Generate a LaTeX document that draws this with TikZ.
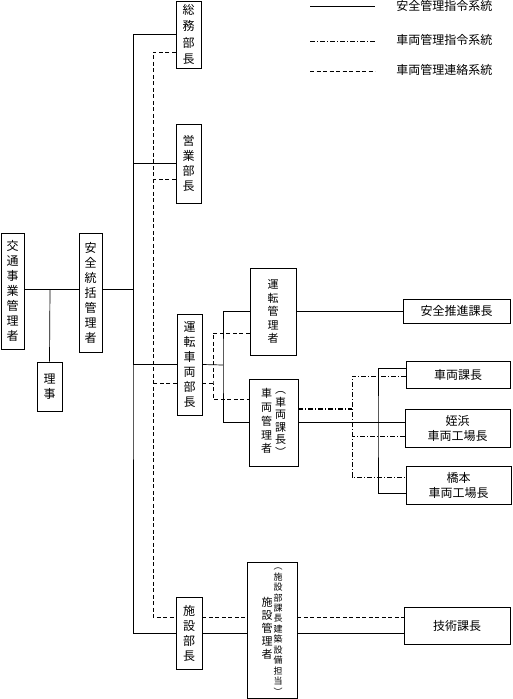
\documentclass[tikz,border=0pt]{standalone}
\usepackage{fontspec}
\setmainfont{Noto Sans CJK JP}

\begin{document}
\begin{tikzpicture}[x=1pt,y=-1pt,
	  line width=0.7pt,
	  main node/.style={draw,inner sep=0pt,align=center,font=\fontsize{12}{15}\selectfont},
	  key node/.style={anchor=west,inner sep=0pt,font=\fontsize{12}{15}\selectfont},
	  order line/.style={line width=0.7pt},
	  ctrl line/.style={line width=0.7pt,dash pattern=on 5pt off 2pt on 1pt off 2pt},
	  link line/.style={line width=0.7pt,dash pattern=on 4pt off 2.5pt}]
	\useasboundingbox (0,0) rectangle (512,699);

	% legend
	\coordinate (k1) at (310,6);
	\coordinate (k2) at (375,6);
	\coordinate (k3) at (310,41);
	\coordinate (k4) at (375,41);
	\coordinate (k5) at (310,71);
	\coordinate (k6) at (375,71);
	\node[key node] (t1) at (396,6) {安全管理指令系統};
	\node[key node] (t2) at (396,40) {車両管理指令系統};
	\node[key node] (t3) at (396,70) {車両管理連絡系統};
	\draw[order line] (k1) -- (k2);
	\draw[ctrl line] (k3) -- (k4);
	\draw[link line] (k5) -- (k6);

	\node[main node,minimum width=23,minimum height=116] (1) at (12.5,291) {交\\通\\事\\業\\管\\理\\者};
	\node[main node,minimum width=25,minimum height=49] (2) at (49.5,386.5) {理\\事};
	\node[main node,minimum width=23,minimum height=119] (3) at (90.5,292.5) {安\\全\\統\\括\\管\\理\\者};
	\node[main node,minimum width=25,minimum height=67,font=\fontsize{12}{16.5}\selectfont] (4) at (188.5,34.5) {総\\務\\部\\長};
	\node[main node,minimum width=25,minimum height=79] (5) at (188.5,163.5) {営\\業\\部\\長};
	\node[main node,minimum width=25,minimum height=101] (6) at (189.5,364.5) {運\\転\\車\\両\\部\\長};
	\node[main node,minimum width=26,minimum height=72] (7) at (189,633) {施\\設\\部\\長};
	\node[main node,minimum width=46,minimum height=87,font=\fontsize{11}{13.5}\selectfont] (8) at (273,311.5) {運\\転\\管\\理\\者};
	\node[main node,minimum width=49,minimum height=87,font=\fontsize{11}{13.75}\selectfont] (9) at (273.5,422.5)
	  {\begin{tabular}[c]{@{}c@{}}車\\両\\管\\理\\者\end{tabular}\hspace{3pt}{\fontsize{11}{12.5}\selectfont\begin{tabular}[c]{@{}c@{}}︵\\車\\両\\課\\長\\︶\end{tabular}}};
	\node[main node,minimum width=50,minimum height=135,font=\fontsize{11}{13}\selectfont] (10) at (272,630.5)
	  {\begin{tabular}[c]{@{}c@{}}施\\設\\管\\理\\者\end{tabular}\hspace{1pt}{\fontsize{9}{10.2}\selectfont\begin{tabular}[c]{@{}c@{}}︵\\施\\設\\部\\課\\長\\建\\築\\設\\備\\担\\当\\︶\end{tabular}}};
	\node[main node,minimum width=107,minimum height=24] (11) at (456.5,311) {安全推進課長};
	\node[main node,minimum width=104,minimum height=27] (12) at (458,374.5) {車両課長};
	\node[main node,minimum width=105,minimum height=38] (13) at (457.5,428) {姪浜\\車両工場長};
	\node[main node,minimum width=105,minimum height=38] (14) at (458.5,485) {橋本\\車両工場長};
	\node[main node,minimum width=106,minimum height=37] (15) at (457,625.5) {技術課長};

	\coordinate (a) at (50,289);
	\coordinate (b) at (133,289);
	\coordinate (c) at (153,617);
	\coordinate (d) at (223,365);
	\coordinate (e) at (213,383);
	\coordinate (f) at (378,422.5);
	\coordinate (g) at (352,409);

	\draw[order line] (a -| 1.east) -- (a -| 3.west);
	\draw[order line] (a) -- (2.north);
	\draw[order line] (b -| 3.east) -- (b);
	\draw[order line] (4.west) -| (b) |- (7.west);
	\draw[order line] (b) |- (5.west);
	\draw[order line] (b) |- (6.west);
	\draw[order line] (6.east) -- (d);
	\draw[order line] (8.west) -| (d) |- (9.west);
	\draw[order line] (8.east) -- (8.east -| 11.west);
	\draw[order line] (9.east) -- (9.east -| 13.west);
	\draw[order line] ([yshift=6.5pt]12.west) -| (f) |- ([yshift=-8pt]14.west);
	\draw[order line] (7.east) -- (7.east -| 10.west);
	\draw[order line] (7.east -| 10.east) -- (7.east -| 15.west);

	\draw[link line] ([yshift=-17.5pt]4.west) -| (c) -- ([yshift=16pt]7.west);
	\draw[link line] ([yshift=-15.5pt]5.west) -- ([yshift=-15.5pt]5.west -| c);
	\draw[link line] ([yshift=-18.5pt]6.west) -- ([yshift=-18.5pt]6.west -| c);
	\draw[link line] ([yshift=-18.5pt]6.east) -- (e);
	\draw[link line] ([yshift=-21.5pt]8.west) -| (e) |- ([yshift=23.5pt]9.west);
	\draw[link line] ([yshift=16pt]7.east) -- ([yshift=16pt]7.east -| 10.west);
	\draw[link line] ([yshift=16pt]7.east -| 10.east) -- ([yshift=16pt]7.east -| 15.west);

	\draw[ctrl line,line width=1.6pt] ([yshift=13.5pt]9.east) -- (g);
	\draw[ctrl line] ([yshift=-1.5pt]12.west) -| (g) |- ([yshift=8pt]14.west);
	\draw[ctrl line] ([yshift=-8pt]13.west) -- ([yshift=-8pt]13.west -| g);

\end{tikzpicture}
\end{document}
